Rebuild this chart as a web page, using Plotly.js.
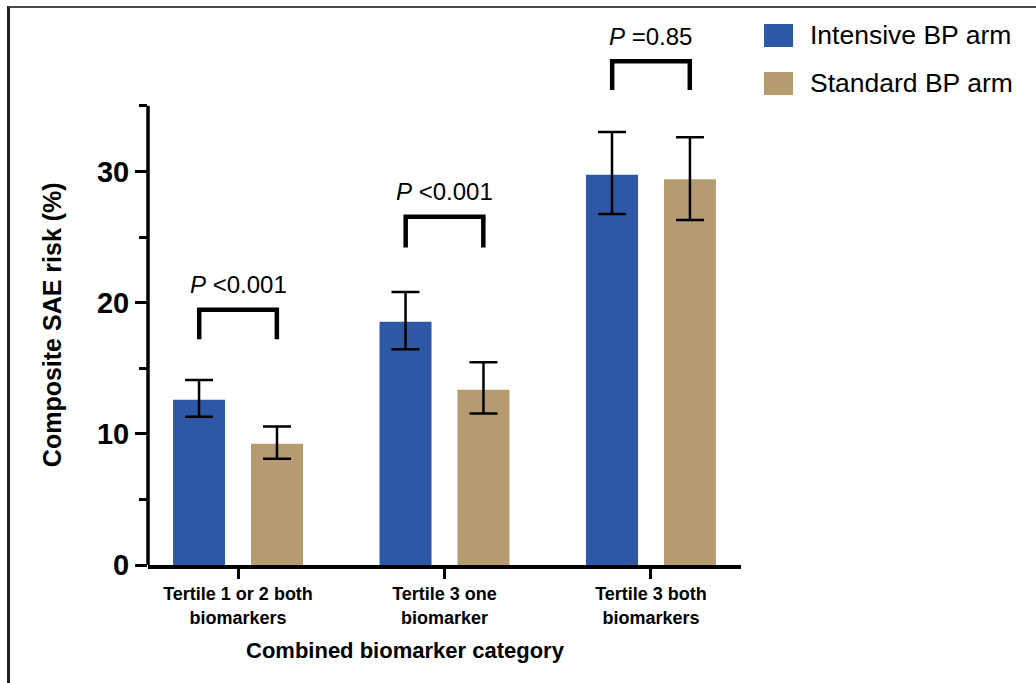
<!DOCTYPE html>
<html>
<head>
<meta charset="utf-8">
<script src="https://cdn.plot.ly/plotly-3.0.1.min.js"></script>
<style>
  html, body { margin: 0; padding: 0; background: #fff; }
  #chart { width: 1036px; height: 683px; }
  #frame { position: absolute; left: 7px; top: 6px; width: 1029px; height: 677px;
           border-left: 3px solid #231f20; border-top: 2px solid #4a4a4a; pointer-events: none; box-sizing: border-box; }
</style>
</head>
<body>
<div id="chart"></div>
<div id="frame"></div>
<script>
// ---- data ----
const categories = ["Tertile 1 or 2 both<br>biomarkers", "Tertile 3 one<br>biomarker", "Tertile 3 both<br>biomarkers"];
const seriesNames = ["Intensive BP arm", "Standard BP arm"];
const intensive = [12.6, 18.55, 29.75];
const intensiveErrUp = [1.5, 2.25, 3.25];
const intensiveErrDown = [1.3, 2.1, 3.0];
const standard = [9.25, 13.35, 29.4];
const standardErrUp = [1.3, 2.1, 3.2];
const standardErrDown = [1.15, 1.8, 3.1];
const pTexts = ["<i>P</i> &lt;0.001", "<i>P</i> &lt;0.001", "<i>P</i> =0.85"];
const bracketTop = [19.45, 26.55, 38.4];
const bracketLeg = [17.2, 24.2, 36.2];
const yTickVals = [0, 10, 20, 30];
const yMinorVals = [5, 15, 25, 35];

// ---- styling ----
const FONT = "Arial, 'Liberation Sans', sans-serif";
const colors = ["#2e58a6", "#b59b6f"];
const xIdx = categories.map((_, i) => i);
const off = 0.188;

const traces = [
  { type: "bar", name: seriesNames[0], x: xIdx, y: intensive, marker: { color: colors[0] },
    error_y: { type: "data", symmetric: false, array: intensiveErrUp, arrayminus: intensiveErrDown,
               color: "#000", thickness: 2.5, width: 14 } },
  { type: "bar", name: seriesNames[1], x: xIdx, y: standard, marker: { color: colors[1] },
    error_y: { type: "data", symmetric: false, array: standardErrUp, arrayminus: standardErrDown,
               color: "#000", thickness: 2.5, width: 14 } }
];

const shapes = [];
const annotations = [];
xIdx.forEach((i) => {
  shapes.push({ type: "path", xref: "x", yref: "y",
    path: `M ${i - off},${bracketLeg[i]} L ${i - off},${bracketTop[i]} L ${i + off},${bracketTop[i]} L ${i + off},${bracketLeg[i]}`,
    line: { color: "#000", width: 4.5 } });
  annotations.push({ xref: "x", yref: "y", x: i, y: bracketTop[i], yshift: 25, text: pTexts[i],
    showarrow: false, xanchor: "center", yanchor: "middle", font: { family: FONT, size: 24, color: "#000" } });
});
// y axis line 0..35
shapes.push({ type: "line", xref: "paper", yref: "y", x0: 0, x1: 0, y0: 0, y1: yMinorVals[yMinorVals.length - 1],
  line: { color: "#000", width: 3.5 } });

// manual legend
const legendRows = [[0.9819, 0.9401, 0.961], [0.8947, 0.853, 0.874]];
seriesNames.forEach((n, k) => {
  shapes.push({ type: "rect", xref: "paper", yref: "paper", x0: 1.0388, x1: 1.0877,
    y0: legendRows[k][1], y1: legendRows[k][0], fillcolor: colors[k], line: { width: 0 } });
  annotations.push({ xref: "paper", yref: "paper", x: 1.113, y: legendRows[k][2], text: n, showarrow: false,
    xanchor: "left", yanchor: "middle", font: { family: FONT, size: 26.5, color: "#000" } });
});

// axis titles
annotations.push({ xref: "x", yref: "paper", x: 0.81, y: -0.156, text: "<b>Combined biomarker category</b>",
  showarrow: false, xanchor: "center", yanchor: "middle", font: { family: FONT, size: 22, color: "#000" } });
annotations.push({ xref: "paper", yref: "paper", x: -0.162, y: 0.437, text: "<b>Composite SAE risk (%)</b>",
  textangle: -90, showarrow: false, xanchor: "center", yanchor: "middle", font: { family: FONT, size: 25, color: "#000" } });

const layout = {
  width: 1036, height: 683,
  margin: { l: 148, r: 295, t: 14, b: 118, pad: 0 },
  paper_bgcolor: "#fff", plot_bgcolor: "#fff",
  showlegend: false,
  barmode: "group", bargap: 0.245, bargroupgap: 0.333,
  font: { family: FONT, color: "#000" },
  xaxis: {
    type: "linear", range: [-0.436, 2.436], tickvals: xIdx, ticktext: categories,
    showline: true, linecolor: "#000", linewidth: 3.5, showgrid: false, zeroline: false,
    ticks: "outside", ticklen: 10, tickwidth: 3, tickcolor: "#000",
    tickfont: { family: FONT, size: 18, color: "#000", weight: "bold" }
  },
  yaxis: {
    range: [0, 42], tickvals: yTickVals, ticktext: yTickVals.map(String),
    showline: false, showgrid: false, zeroline: false,
    ticks: "outside", ticklen: 12, tickwidth: 3, tickcolor: "#000", ticklabelstandoff: 0,
    tickfont: { family: FONT, size: 29, color: "#000", weight: "bold" },
    minor: { tickvals: yMinorVals, ticks: "outside", ticklen: 8, tickwidth: 3, tickcolor: "#000", showgrid: false }
  },
  shapes: shapes,
  annotations: annotations
};

Plotly.newPlot("chart", traces, layout, { displayModeBar: false, staticPlot: true });
</script>
</body>
</html>
